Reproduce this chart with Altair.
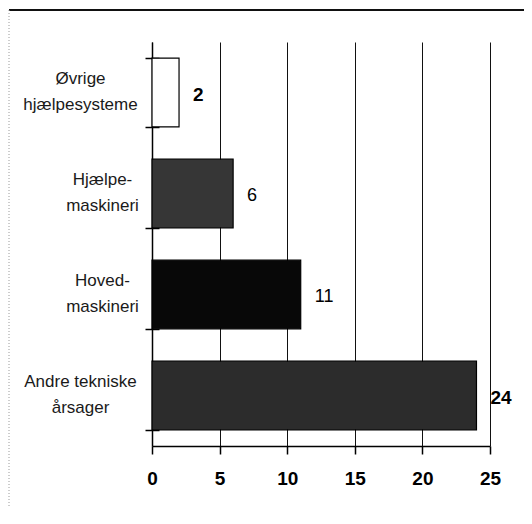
import altair as alt
import pandas as pd

categories = ["Øvrige hjælpesysteme", "Hjælpe-maskineri", "Hoved-maskineri", "Andre tekniske årsager"]
label_lines = [["Øvrige", "hjælpesysteme"], ["Hjælpe-", "maskineri"], ["Hoved-", "maskineri"], ["Andre tekniske", "årsager"]]
values = [2, 6, 11, 24]
x_ticks = [0, 5, 10, 15, 20, 25]
bar_colors = ["#ffffff", "#363636", "#080808", "#2c2c2c"]
bold_values = [2, 24]

df = pd.DataFrame({"category": categories, "value": values})


def js(s):
    return "'" + s.replace("'", "\\'") + "'"


label_expr = " : ".join(
    f"datum.value == {js(c)} ? [{', '.join(js(l) for l in ls)}]" for c, ls in zip(categories, label_lines)
) + " : datum.label"
short_cats = "[" + ", ".join(js(c) for c in categories[1:3]) + "]"
pad_expr = f"indexof({short_cats}, datum.value) >= 0 ? 43 : 65"

FONT = "Liberation Sans"
W, H = 338, 404

xscale = alt.Scale(domain=[0, 25], nice=False)
yscale = alt.Scale(domain=categories, paddingInner=0.32, paddingOuter=0.16)

bars = alt.Chart(df).mark_bar(stroke="#000000", strokeWidth=1.2).encode(
    x=alt.X(
        "value:Q",
        scale=xscale,
        axis=alt.Axis(
            values=x_ticks, title=None, grid=True, gridColor="#111111", gridWidth=1,
            tickSize=8, tickColor="#000000", tickWidth=1.5, domainColor="#000000", domainWidth=1.5,
            labelFont=FONT, labelFontWeight="bold", labelFontSize=19, labelColor="#000000",
            labelPadding=15, labelFlush=False,
        ),
    ),
    y=alt.Y(
        "category:N",
        scale=yscale,
        sort=categories,
        axis=alt.Axis(
            title=None, labelExpr=label_expr, labelAlign="center", labelFont=FONT,
            labelFontSize=17, labelLineHeight=26, labelColor="#1a1a1a", labelOffset=-14,
            labelPadding=alt.ExprRef(pad_expr), tickBand="extent", tickSize=7,
            tickColor="#000000", tickWidth=1.5, domainColor="#000000", domainWidth=1.5, grid=False,
        ),
    ),
    fill=alt.Fill("category:N", scale=alt.Scale(domain=categories, range=bar_colors), legend=None),
)

cross_ticks = alt.Chart(df).mark_bar(opacity=0).encode(
    x=alt.X("value:Q", scale=xscale),
    y=alt.Y(
        "category:N",
        scale=yscale,
        sort=categories,
        axis=alt.Axis(
            orient="right", offset=-W, title=None, labels=False, domain=False,
            tickBand="extent", tickSize=7, tickColor="#000000", tickWidth=1.5, grid=False,
        ),
    ),
)

text_bold = alt.Chart(df).transform_filter(
    alt.FieldOneOfPredicate(field="value", oneOf=bold_values)
).mark_text(align="left", dx=14, dy=2, fontSize=19, font=FONT, fontWeight="bold", color="#000000").encode(
    x=alt.X("value:Q", scale=xscale),
    y=alt.Y("category:N", scale=yscale, sort=categories, axis=None),
    text=alt.Text("value:Q"),
)
text_norm = alt.Chart(df).transform_filter(
    ~alt.FieldOneOfPredicate(field="value", oneOf=bold_values)
).mark_text(align="left", dx=14, dy=2, fontSize=18, font=FONT, color="#000000").encode(
    x=alt.X("value:Q", scale=xscale),
    y=alt.Y("category:N", scale=yscale, sort=categories, axis=None),
    text=alt.Text("value:Q"),
)

frame_data = alt.Data(values=[{"k": 1}])
top_border = alt.Chart(frame_data).mark_rule(color="#111111", strokeWidth=2).encode(
    x=alt.value(-143), x2=alt.value(W + 50), y=alt.value(-32)
)
left_border = alt.Chart(frame_data).mark_rule(color="#9a9a9a", strokeWidth=1, strokeDash=[1, 2]).encode(
    x=alt.value(-143), y=alt.value(-32), y2=alt.value(H + 80)
)

chart = alt.layer(bars, cross_ticks, text_norm, text_bold, top_border, left_border).resolve_axis(
    y="independent"
).properties(
    width=W, height=H,
    autosize=alt.AutoSizeParams(type="none"),
    padding={"left": 144, "top": 34, "right": 34, "bottom": 62},
).configure(background="#ffffff", view=alt.ViewConfig(strokeWidth=0))

chart.save("out.html", embed_options={"renderer": "svg", "actions": False})
